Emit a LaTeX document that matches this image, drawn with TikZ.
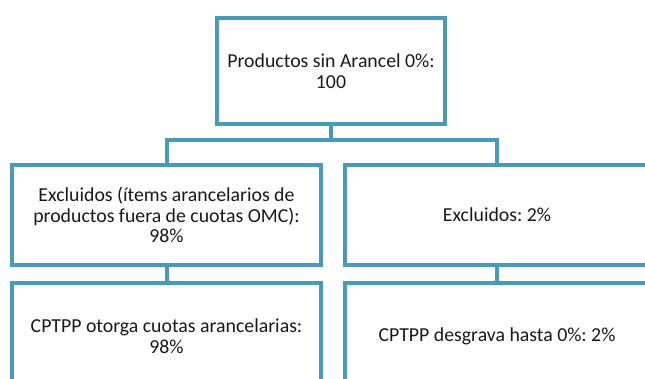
\documentclass[tikz,border=0pt]{standalone}
\usepackage{fontspec}
\setmainfont{Carlito}
\frenchspacing
\definecolor{boxline}{RGB}{72,155,180}
\definecolor{txt}{RGB}{25,25,25}
\begin{document}
\begin{tikzpicture}[x=1pt,y=-1pt,
  box/.style={draw=boxline, line width=4pt, fill=white, align=center, text=txt,
    font=\frenchspacing\fontsize{19.8}{20.5}\selectfont, inner sep=0pt},
  conn/.style={draw=boxline, line width=4pt}]
\useasboundingbox (0,0) rectangle (645,379);
\clip (0,0) rectangle (645,379);
\fill[white] (0,0) rectangle (645,379);
\node[box, minimum width=228pt, minimum height=106pt] (top) at (331,71)
  {Productos sin Arancel 0\%:\\100};
\node[box, minimum width=309pt, minimum height=100pt] (ml) at (166.5,215)
  {Excluidos (ítems arancelarios de\\productos fuera de cuotas OMC):\\98\%};
\node[box, minimum width=304pt, minimum height=100pt] (mr) at (497,215)
  {Excluidos: 2\%};
\node[box, minimum width=309pt, minimum height=106pt] (bl) at (166.5,336)
  {CPTPP otorga cuotas arancelarias:\\98\%};
\node[box, minimum width=304pt, minimum height=106pt] (br) at (497,336)
  {CPTPP desgrava hasta 0\%: 2\%};
\coordinate (j) at (331,140);
\draw[conn] (top.south) -- (j);
\draw[conn] (ml.north) |- (j) -| (mr.north);
\draw[conn] (ml.south) -- (bl.north);
\draw[conn] (mr.south) -- (br.north);
\end{tikzpicture}
\end{document}
